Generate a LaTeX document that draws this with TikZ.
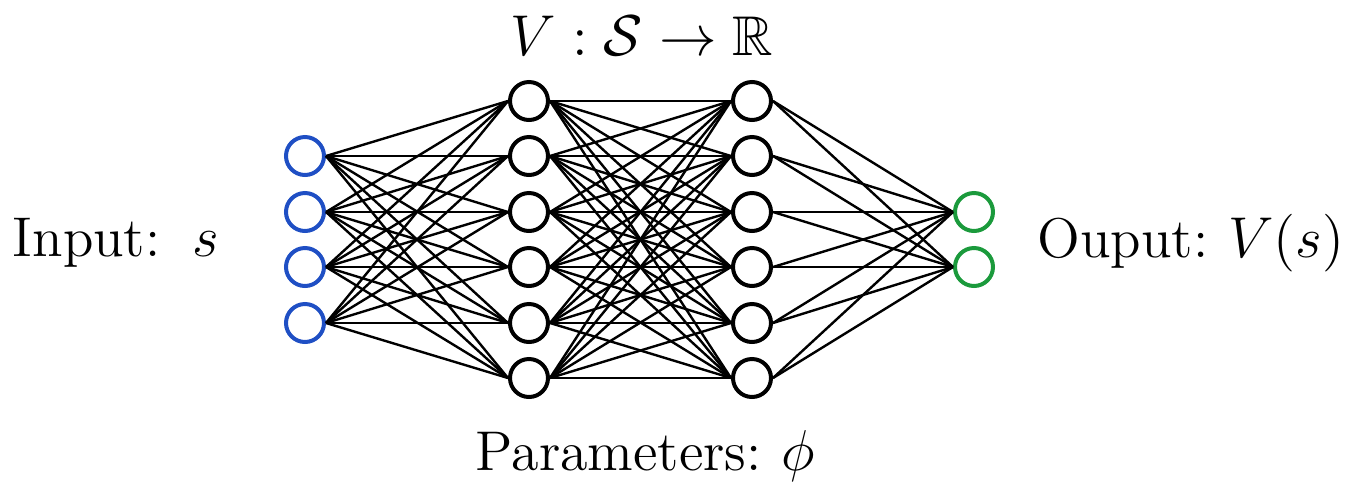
\documentclass[tikz,border=0pt]{standalone}
\usepackage{amssymb}
\definecolor{inblue}{HTML}{1F4FC4}
\definecolor{outgreen}{HTML}{1B9A3C}
\begin{document}
\begin{tikzpicture}[x=0.25pt,y=-0.25pt,
  neuron/.style={circle,draw,line width=1pt,minimum size=9.5pt,inner sep=0pt},
  inneuron/.style={neuron,draw=inblue},
  outneuron/.style={neuron,draw=outgreen},
  conn/.style={line width=0.6pt,black},
  lbl/.style={font=\fontsize{14}{16}\selectfont,inner sep=0pt}]
\useasboundingbox (0,0) rectangle (1352,484);
% input layer
\foreach \i/\y in {1/156,2/212,3/267,4/323}
  \node[inneuron] (a\i) at (305,\y) {};
% hidden layers
\foreach \i/\y in {1/101,2/156,3/212,4/267,5/323,6/378} {
  \node[neuron] (b\i) at (529,\y) {};
  \node[neuron] (c\i) at (752,\y) {};
}
% output layer
\foreach \i/\y in {1/212,2/267}
  \node[outneuron] (d\i) at (974,\y) {};
% connections
\foreach \i in {1,...,4}
  \foreach \j in {1,...,6}
    \draw[conn] (a\i.east) -- (b\j.west);
\foreach \i in {1,...,6}
  \foreach \j in {1,...,6}
    \draw[conn] (b\i.east) -- (c\j.west);
\foreach \i in {1,...,6}
  \foreach \j in {1,2}
    \draw[conn] (c\i.east) -- (d\j.west);
% labels
\node[lbl,anchor=west] (tin) at (12,243) {Input:\hspace{8pt}$s$};
\node[lbl,anchor=east] (tout) at (1345,243) {Ouput:\hspace{5pt}$V(s)$};
\node[lbl] (ttop) at (642,36) {$V:\mathcal{S}\to\mathbb{R}$};
\node[lbl,anchor=west] (tbot) at (475,456) {Parameters:\hspace{5pt}$\phi$};
\end{tikzpicture}
\end{document}
